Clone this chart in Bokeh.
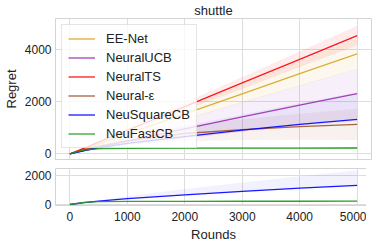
import numpy as np
from bokeh.plotting import figure
from bokeh.models import Range1d, FixedTicker, Legend, LegendItem
from bokeh.layouts import column
from bokeh.embed import file_html
from bokeh.resources import INLINE

# ---- data ----
rounds = [0, 250, 500, 1000, 2000, 3000, 4000, 5000]

ee_net = [0, 190, 385, 770, 1530, 2300, 3070, 3830]
ee_net_std = [0, 30, 60, 120, 240, 355, 475, 590]

neural_ucb = [0, 130, 250, 490, 960, 1420, 1870, 2310]
neural_ucb_std = [0, 50, 100, 190, 380, 570, 760, 950]

neural_ts = [0, 225, 450, 905, 1810, 2715, 3620, 4525]
neural_ts_std = [0, 20, 40, 75, 150, 230, 300, 380]

neural_eps = [0, 160, 300, 500, 780, 930, 1040, 1130]
neural_eps_std = [0, 40, 80, 150, 290, 400, 500, 600]

neusquare = [0, 130, 230, 400, 660, 910, 1130, 1320]
neusquare_low = [0, 120, 215, 375, 620, 860, 1070, 1250]
neusquare_high = [0, 150, 300, 560, 1060, 1510, 1950, 2360]

neufast = [0, 150, 200, 215, 220, 222, 224, 225]
neufast_std = [0, 15, 20, 25, 25, 25, 25, 25]

x_ticks = [0, 1000, 2000, 3000, 4000, 5000]
y_ticks_top = [0, 2000, 4000]
y_ticks_bottom = [0, 2000]

FONT = "Liberation Sans"
GRID = "#dddddd"
FRAME = "#d4d4d4"

C_EE = "#DAA520"
C_UCB = "#9b2fae"
C_TS = "#ff0000"
C_EPS = "#a0522d"
C_SQ = "#0000ff"
C_FAST = "#1f9a1f"

x_range = Range1d(-250, 5250)


def style(p, yticks):
    p.outline_line_color = FRAME
    p.outline_line_width = 1
    p.xgrid.ticker = FixedTicker(ticks=x_ticks)
    p.ygrid.ticker = FixedTicker(ticks=yticks)
    p.xgrid.grid_line_color = GRID
    p.ygrid.grid_line_color = GRID
    p.xgrid.grid_line_width = 1
    p.ygrid.grid_line_width = 1
    p.yaxis.ticker = FixedTicker(ticks=yticks)
    p.xaxis.ticker = FixedTicker(ticks=x_ticks)
    for ax in (p.xaxis, p.yaxis):
        ax.axis_line_color = None
        ax.major_tick_line_color = None
        ax.minor_tick_line_color = None
        ax.major_tick_out = 0
        ax.major_tick_in = 0
        ax.minor_tick_out = 0
        ax.major_label_text_font = FONT
        ax.major_label_text_font_size = "12px"
        ax.major_label_text_color = "#222222"
        ax.axis_label_text_font = FONT
        ax.axis_label_text_font_size = "13px"
        ax.axis_label_text_font_style = "normal"
        ax.axis_label_text_color = "#222222"
        ax.major_label_standoff = 4
        ax.axis_label_standoff = 3
    p.background_fill_color = "white"
    p.border_fill_color = "white"


def band(p, lo, hi, color, alpha=0.08):
    p.varea(x=rounds, y1=lo, y2=hi, fill_color=color, fill_alpha=alpha)


top = figure(frame_width=316, frame_height=141, x_range=x_range,
             y_range=Range1d(-214, 5180), output_backend="svg",
             toolbar_location=None, title="shuttle",
             min_border_left=46, min_border_right=4, min_border_top=0,
             min_border_bottom=3)
top.title.text_font = FONT
top.title.text_font_size = "13px"
top.title.text_font_style = "normal"
top.title.align = "center"
top.title.standoff = 1
top.title.text_color = "#222222"
style(top, y_ticks_top)
top.xaxis.visible = False
top.yaxis.axis_label = "Regret"

series = [
    ("EE-Net", ee_net, ee_net_std, C_EE),
    ("NeuralUCB", neural_ucb, neural_ucb_std, C_UCB),
    ("NeuralTS", neural_ts, neural_ts_std, C_TS),
    ("Neural-\u03b5", neural_eps, neural_eps_std, C_EPS),
]

items = []
for name, m, s, c in series:
    m = np.array(m, float)
    s = np.array(s, float)
    band(top, m - s, m + s, c)
band(top, neusquare_low, neusquare_high, C_SQ, 0.05)
fm = np.array(neufast, float)
fs = np.array(neufast_std, float)
band(top, fm - fs, fm + fs, C_FAST, 0.3)

for name, m, s, c in series:
    r = top.line(rounds, m, line_color=c, line_width=1.3, line_alpha=0.9)
    items.append(LegendItem(label=name, renderers=[r]))
r = top.line(rounds, neusquare, line_color=C_SQ, line_width=1.3, line_alpha=0.9)
items.append(LegendItem(label="NeuSquareCB", renderers=[r]))
r = top.line(rounds, neufast, line_color=C_FAST, line_width=1.3, line_alpha=0.9)
items.append(LegendItem(label="NeuFastCB", renderers=[r]))

legend = Legend(items=items, location="top_left")
legend.label_text_font = FONT
legend.label_text_font_size = "13px"
legend.label_text_color = "#222222"
legend.glyph_width = 27
legend.glyph_height = 15
legend.label_height = 15
legend.spacing = 4
legend.padding = 6
legend.margin = 6
legend.label_standoff = 11
legend.border_line_color = "#cccccc"
legend.background_fill_alpha = 0.8
top.add_layout(legend)

bottom = figure(frame_width=316, frame_height=37, x_range=x_range,
                y_range=Range1d(-70, 2480), output_backend="svg",
                toolbar_location=None,
                min_border_left=46, min_border_right=4, min_border_top=6,
                min_border_bottom=0)
style(bottom, y_ticks_bottom)
bottom.xaxis.axis_label = "Rounds"
bottom.xaxis.axis_label_standoff = 3
bottom.xaxis.major_label_standoff = 6
band(bottom, neusquare_low, neusquare_high, C_SQ, 0.05)
band(bottom, fm - fs, fm + fs, C_FAST, 0.3)
bottom.line(rounds, neusquare, line_color=C_SQ, line_width=1.3, line_alpha=0.9)
bottom.line(rounds, neufast, line_color=C_FAST, line_width=1.3, line_alpha=0.9)

layout = column(top, bottom, spacing=0)
open("out.html", "w").write(file_html(layout, INLINE))
